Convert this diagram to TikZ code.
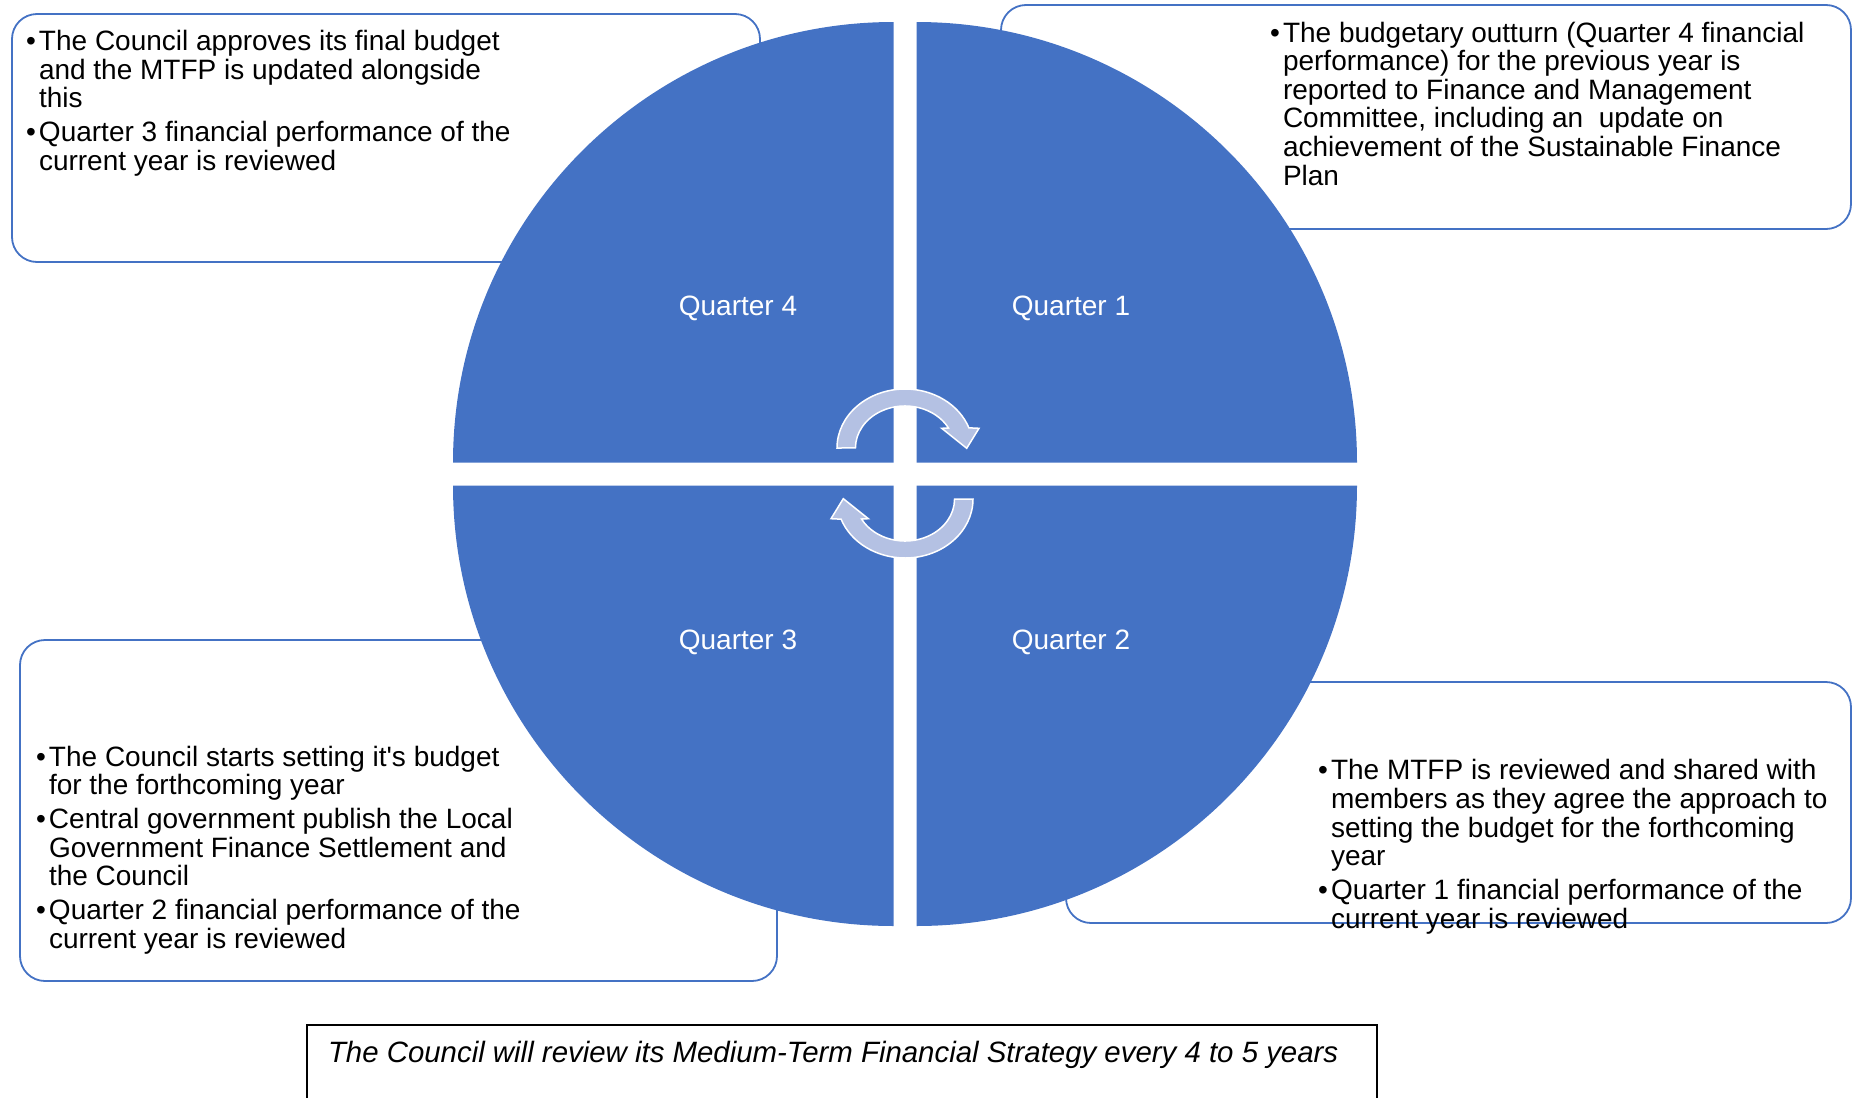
\documentclass[tikz,border=0pt]{standalone}
\usepackage{fontspec}
\setmainfont{Liberation Sans}

\definecolor{quadblue}{RGB}{68,114,196}
\definecolor{turnfill}{RGB}{180,193,227}

\newcommand{\bul}{\makebox[6.5pt][l]{\textbullet}}
\newcommand{\cont}{\hspace*{6.5pt}}

\begin{document}
\begin{tikzpicture}[
    x = 0.5pt,
    y = -0.5pt,
    quad/.style = {fill=quadblue},
    notebox/.style = {draw=quadblue, line width=0.9pt, rounded corners=12.5pt},
    notetext/.style = {anchor=base west, align=left, inner sep=0pt,
    outer sep=0pt, font=\fontsize{14}{14.3}\selectfont},
    qlabel/.style = {text=white, inner sep=0pt,
    font=\fontsize{14}{14.3}\selectfont},
    turn/.style = {fill=turnfill, draw=white, line width=0.75pt},
]

\clip (0,0) rectangle (1854,1098);

% boxes first, the circle covers them
\draw[notebox] (12,14) rectangle (760,262);
\draw[notebox] (1001,5) rectangle (1851,229);
\draw[notebox] (20,640) rectangle (777,981);
\draw[notebox] (1066,682) rectangle (1851,923);
\draw[line width=0.75pt] (307,1025) rectangle (1377,1120);

% four quarters
\fill[quad] (916.5,462.5) -- (1357,462.5) arc[start angle=0, end angle=-90, radius=440.5] -- cycle;
\fill[quad] (893.5,462.5) -- (893.5,22) arc[start angle=-90, end angle=-180, radius=440.5] -- cycle;
\fill[quad] (893.5,485.5) -- (453,485.5) arc[start angle=180, end angle=90, radius=440.5] -- cycle;
\fill[quad] (916.5,485.5) -- (916.5,926) arc[start angle=90, end angle=0, radius=440.5] -- cycle;

\node[qlabel] (q4) at (738,308.5) {Quarter 4};
\node[qlabel] (q1) at (1071,308.5) {Quarter 1};
\node[qlabel] (q3) at (738,642.5) {Quarter 3};
\node[qlabel] (q2) at (1071,642.5) {Quarter 2};

% cycle arrows
\path[turn] (837,448) arc[start angle=180, end angle=340, x radius=68, y radius=59]
    -- (979,428.3) -- (966.7,448.3) -- (941.7,428.3) -- (948.5,428)
    arc[start angle=331.6, end angle=180, x radius=49.5, y radius=42] -- cycle;
\path[turn, rotate around={180:(905,473.5)}] (837,448)
    arc[start angle=180, end angle=340, x radius=68, y radius=59]
    -- (979,428.3) -- (966.7,448.3) -- (941.7,428.3) -- (948.5,428)
    arc[start angle=331.6, end angle=180, x radius=49.5, y radius=42] -- cycle;

% notes, placed by the baseline of their last line
\node[notetext] (note_q4) at (26,170) {%
\bul The Council approves its final budget\\
\cont and the MTFP is updated alongside\\
\cont this\\[2.6pt]
\bul Quarter 3 financial performance of the\\
\cont current year is reviewed};

\node[notetext] (note_q1) at (1270,185) {%
\bul The budgetary outturn (Quarter 4 financial\\
\cont performance) for the previous year is\\
\cont reported to Finance and Management\\
\cont Committee, including an\ \ update on\\
\cont achievement of the Sustainable Finance\\
\cont Plan};

\node[notetext] (note_q3) at (36,948) {%
\bul The Council starts setting it\textquotesingle s budget\\
\cont for the forthcoming year\\[2.6pt]
\bul Central government publish the Local\\
\cont Government Finance Settlement and\\
\cont the Council\\[2.6pt]
\bul Quarter 2 financial performance of the\\
\cont current year is reviewed};

\node[notetext] (note_q2) at (1318,928) {%
\bul The MTFP is reviewed and shared with\\
\cont members as they agree the approach to\\
\cont setting the budget for the forthcoming\\
\cont year\\[2.6pt]
\bul Quarter 1 financial performance of the\\
\cont current year is reviewed};

\node[notetext, font=\fontsize{14.7}{15}\selectfont] (strategy) at (328,1062.5)
    {\itshape The Council will review its Medium-Term Financial Strategy every 4 to 5 years};
\end{tikzpicture}
\end{document}
